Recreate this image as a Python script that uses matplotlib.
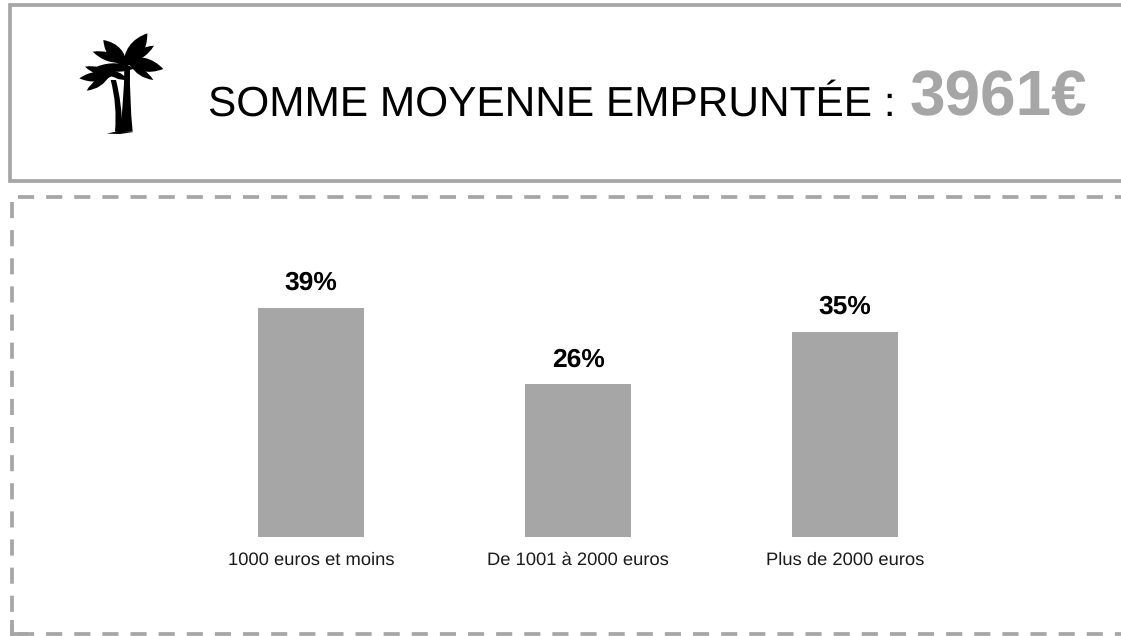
import matplotlib.pyplot as plt
from matplotlib.patches import PathPatch
from matplotlib.path import Path

W, H = 1121, 636
GREY = "#a6a6a6"

categories = ["1000 euros et moins", "De 1001 à 2000 euros", "Plus de 2000 euros"]
shares = [39, 26, 35]
title_text = "SOMME MOYENNE EMPRUNTÉE :"
average_text = "3961€"

plt.rcParams["font.family"] = ["Liberation Sans", "DejaVu Sans"]
plt.rcParams["text.hinting"] = "no_hinting"

fig = plt.figure(figsize=(W / 100, H / 100), dpi=100, facecolor="white")

# Overlay in pixel coordinates for the frames, heading and icon
bg = fig.add_axes([0, 0, 1, 1])
bg.set_xlim(0, W)
bg.set_ylim(H, 0)
bg.axis("off")

bg.plot([W + 5, 9.5, 9.5, W + 5], [5.3, 5.3, 180.5, 180.5], color=GREY, lw=2.7,
        solid_joinstyle="miter")
dash = dict(color=GREY, lw=2.7, linestyle=(0, (4.3, 3.2)), dash_capstyle="butt")
bg.plot([18, W + 5], [197, 197], **dash)
bg.plot([12, 12], [202, 632], **dash)
bg.plot([18, W + 5], [634.3, 634.3], **dash)
bg.plot([10, 28], [634.3, 634.3], color=GREY, lw=2.7, solid_capstyle="butt")
bg.plot([12, 12], [620, 635.5], color=GREY, lw=2.7, solid_capstyle="butt")

bg.text(208, 115.7, title_text, fontsize=30.55, color="black", va="baseline", ha="left")
bg.text(910, 115.7, average_text, fontsize=46, fontweight="bold", color=GREY,
        va="baseline", ha="left")


def z(x, y):
    # icon sketched on a 3x grid anchored at (70, 25)
    return 70 + x / 3, 25 + y / 3


def leaf(x0, y0, x1, y1, bulge=0.3, at=0.5):
    dx, dy = x1 - x0, y1 - y0
    mx, my = x0 + dx * at, y0 + dy * at
    nx, ny = -dy * bulge, dx * bulge
    verts = [z(x0, y0), z(mx + nx, my + ny), z(x1, y1), z(mx - nx, my - ny), z(x0, y0)]
    codes = [Path.MOVETO, Path.CURVE3, Path.CURVE3, Path.CURVE3, Path.CURVE3]
    bg.add_patch(PathPatch(Path(verts, codes), fc="black", ec="none"))


def blob(points, codes):
    bg.add_patch(PathPatch(Path([z(*p) for p in points], codes), fc="black", ec="none"))


for seg in [(160, 128, 232, 25, 0.36), (170, 112, 252, 62, 0.26), (160, 105, 280, 132, 0.33),
            (180, 120, 250, 165, 0.24), (172, 125, 100, 45, 0.38), (165, 112, 68, 80, 0.25),
            (195, 130, 80, 125, 0.22)]:
    leaf(*seg)
for seg in [(125, 150, 45, 125, 0.26), (130, 150, 28, 160, 0.28), (120, 150, 50, 197, 0.26),
            (105, 135, 175, 165, 0.26), (85, 125, 140, 155, 0.34)]:
    leaf(*seg)

C3 = Path.CURVE3
# large trunk
blob([(163, 130), (180, 130), (178, 220), (188, 320), (150, 320), (162, 230), (163, 130)],
     [Path.MOVETO, Path.LINETO, C3, C3, Path.LINETO, C3, C3])
# small trunk, leaning in from the left
blob([(122, 165), (138, 165), (155, 230), (158, 320), (135, 320), (142, 240), (122, 165)],
     [Path.MOVETO, Path.LINETO, C3, C3, Path.LINETO, C3, C3])
# ground shadow
blob([(110, 326), (150, 317), (190, 321), (150, 327), (110, 326)],
     [Path.MOVETO, Path.LINETO, Path.LINETO, Path.LINETO, Path.CLOSEPOLY])

# Bars: x px = 311 + 267 * i, baseline at y = 537, 5.87 px per point
ax = fig.add_axes([44 / W, (H - 537) / H, 1068 / W, 293.5 / H])
ax.patch.set_visible(False)
bars = ax.bar(range(len(shares)), shares, width=0.4, color=GREY)
ax.set_xlim(-1, 3)
ax.set_ylim(0, 50)
ax.set_xticks(range(len(categories)), categories, fontsize=13.25, color="#1a1a1a")
ax.tick_params(axis="x", length=0, pad=10.5)
ax.set_yticks([])
for side in ax.spines.values():
    side.set_visible(False)
ax.bar_label(bars, labels=[f"{v}%" for v in shares], padding=9, fontsize=19,
             fontweight="bold", color="black")

fig.savefig("out.png", dpi=100)
